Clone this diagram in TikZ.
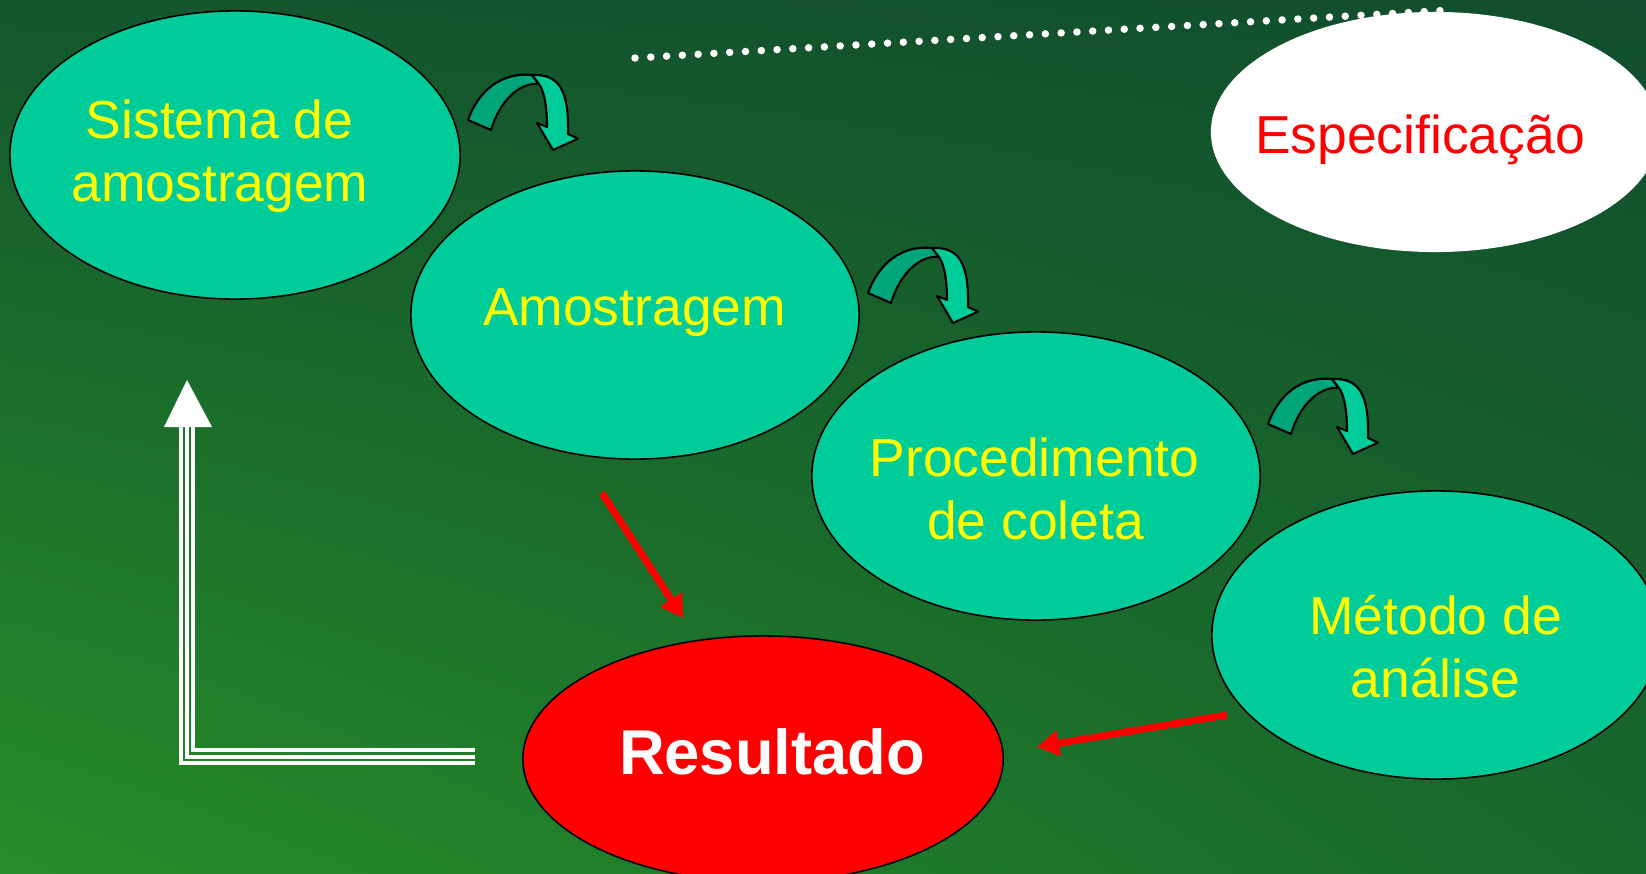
\documentclass[tikz,border=0pt]{standalone}
\usepackage{fontspec}
\setmainfont{Liberation Sans}
\usetikzlibrary{shapes.geometric,arrows.meta,calc,shadings}
\definecolor{tealA}{RGB}{0,204,153}
\definecolor{tealB}{RGB}{0,166,122}
\definecolor{yel}{RGB}{255,255,0}
\definecolor{redc}{RGB}{255,0,0}
\definecolor{bgUL}{RGB}{20,86,46}
\definecolor{bgUR}{RGB}{17,78,45}
\definecolor{bgLL}{RGB}{38,142,40}
\definecolor{bgLR}{RGB}{24,104,44}
\tikzset{
  oval/.style={ellipse, draw=black, line width=0.45pt, fill=tealA, inner sep=0pt,
    minimum width=4.48cm, minimum height=2.88cm},
  lbl/.style={anchor=base, text=yel, inner sep=0pt,
    font=\fontsize{15.2pt}{18pt}\selectfont},
  redarrow/.style={draw=redc, line width=2pt, -{Triangle[length=0.22cm,width=0.25cm]}},
  wline/.style={draw=white, line width=0.9pt},
  dotline/.style={draw=white, line width=0.075cm, line cap=round, dash pattern=on 0pt off 0.158cm},
  curvearrow/.pic={
    \draw[fill=tealB, line width=0.6pt, line join=round]
      (468,120) .. controls (478,92) and (500,72) .. (532,75) -- (539,84)
      .. controls (520,82) and (500,100) .. (491,130) -- cycle;
    \draw[fill=tealA, line width=0.6pt, line join=round]
      (532,75) .. controls (558,74) and (569,88) .. (568,134) -- (578,138.7)
      -- (553,150) -- (537,123) -- (547,127)
      .. controls (547,110) and (545,92) .. (539,84) -- cycle;
  }
}
\begin{document}
\begin{tikzpicture}[x=0.01cm,y=-0.01cm]
\useasboundingbox (0,0) rectangle (1646,873);
\clip (0,0) rectangle (1646,873);
\shade[upper left=bgUL, upper right=bgUR, lower left=bgLL, lower right=bgLR] (0,0) rectangle (1646,873);

% dotted line
\coordinate (dA) at (635,58);
\coordinate (dB) at (1451,10);
\draw[dotline] (dA) -- (dB);

% ellipses
\node[oval, minimum width=4.5cm] (sis) at (235,155) {};
\node[oval] (amo) at (635,315) {};
\node[oval] (pro) at (1036,476) {};
\node[oval] (met) at (1436,635) {};
\node[ellipse, fill=white, inner sep=0pt, minimum width=4.48cm, minimum height=2.4cm] (esp) at (1435,132) {};
\node[oval, fill=redc, minimum width=4.8cm, minimum height=2.46cm] (res) at (763,759) {};

% labels
\node[lbl] (sisA) at (219.5,139) {Sistema de};
\node[lbl] (sisB) at (220,202) {amostragem};
\node[lbl] (amoA) at (634.5,325) {Amostragem};
\node[lbl] (proA) at (1034.5,476) {Procedimento};
\node[lbl] (proB) at (1035.5,539) {de coleta};
\node[lbl] (metA) at (1435.5,634) {Método de};
\node[lbl] (metB) at (1435.5,697) {análise};
\node[lbl, text=redc] (espA) at (1420,154) {Especificação};
\node[lbl, text=white, font=\fontsize{18pt}{21pt}\selectfont\bfseries] (resA) at (772,774) {Resultado};

% curved arrows
\pic (ca1) at (0,0) {curvearrow};
\pic (ca2) at (400,173) {curvearrow};
\pic (ca3) at (800,304) {curvearrow};

% red arrows
\coordinate (ra1) at (602,493);
\coordinate (ra2) at (683,618);
\draw[redarrow] (ra1) -- (ra2);
\coordinate (rb1) at (1227,715);
\coordinate (rb2) at (1037,747);
\draw[redarrow] (rb1) -- (rb2);

% white triple arrow
\coordinate (wtail) at (475,757);
\coordinate (wbase) at (187,427);
\coordinate (wtip) at (187,380);
\draw[wline] ($(wtail)+(0,6)$) -| ($(wbase)+(-6,0)$);
\draw[wline] (wtail) -| (wbase);
\draw[wline] ($(wtail)+(0,-7)$) -| ($(wbase)+(6,0)$);
\fill[white] ($(wbase)+(-23,0)$) -- (wtip) -- ($(wbase)+(25,0)$) -- cycle;
\end{tikzpicture}
\end{document}
